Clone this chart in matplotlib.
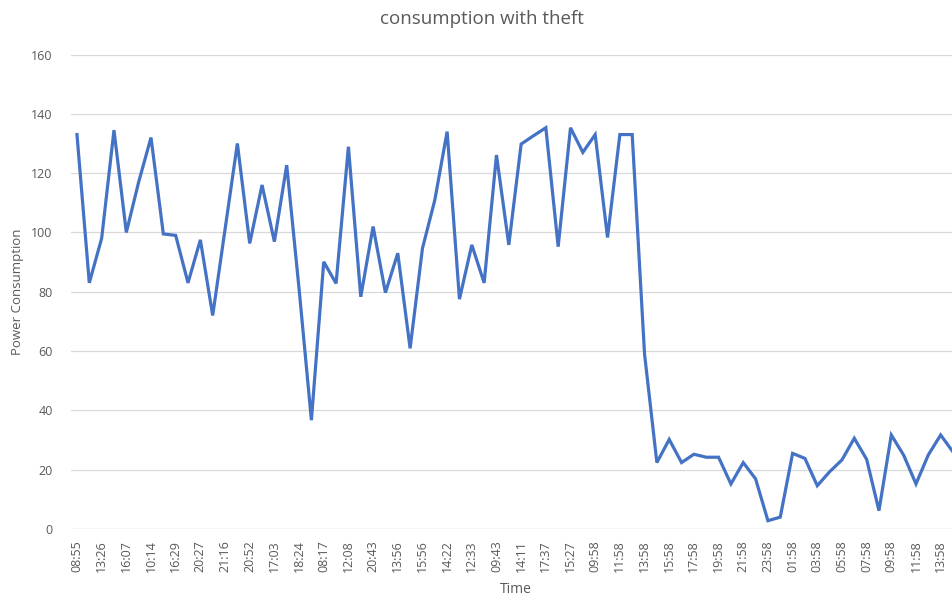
import matplotlib
matplotlib.use("Agg")
import matplotlib.pyplot as plt
import numpy as np

plt.rcParams["font.family"] = ["Open Sans", "DejaVu Sans"]

# every other reading carries a time label on the category axis
time_labels = [
    "08:55", "13:26", "16:07", "10:14", "16:29", "20:27", "21:16", "20:52",
    "17:03", "18:24", "08:17", "12:08", "20:43", "13:56", "15:56", "14:22",
    "12:33", "09:43", "14:11", "17:37", "15:27", "09:58", "11:58", "13:58",
    "15:58", "17:58", "19:58", "21:58", "23:58", "01:58", "03:58", "05:58",
    "07:58", "09:58", "11:58", "13:58",
]

consumption = [
    133, 83, 98, 134.5, 100, 117, 132, 99.5, 99, 83,
    97.5, 72, 101, 130, 96.3, 116, 96.9, 122.7, 81, 36.7,
    90.1, 82.8, 128.9, 78.3, 102, 79.7, 93, 60.9, 94.6, 110.9,
    134, 77.5, 95.8, 83, 126.1, 95.8, 129.8, 132.6, 135.3, 95.2,
    135.3, 127, 133, 98.3, 133, 133, 59, 22.4, 30.2, 22.4,
    25.2, 24.2, 24.2, 15.2, 22.4, 16.9, 2.8, 4, 25.5, 23.8,
    14.6, 19.3, 23.3, 30.6, 23.5, 6.2, 31.7, 24.9, 15.2, 25,
    31.7, 26,
]

y_ticks = [0, 20, 40, 60, 80, 100, 120, 140, 160]

text_grey = "#595959"
grid_grey = "#D9D9D9"
line_blue = "#4472C4"

fig = plt.figure(figsize=(9.53, 5.99), dpi=100)
ax = fig.add_axes([70.8 / 953, 70 / 599, 1 - 70.8 / 953, 474.5 / 599])

x = np.arange(len(consumption))
ax.plot(x, consumption, color=line_blue, lw=2.3, solid_joinstyle="miter",
        zorder=3)

ax.set_xlim(-0.5, len(consumption) - 1)
ax.set_ylim(0, 160)
ax.set_yticks(y_ticks)
ax.set_yticklabels([str(v) for v in y_ticks])
ax.set_xticks(x[::2])
ax.set_xticklabels(time_labels, rotation=90)

ax.grid(axis="y", color=grid_grey, lw=0.9, zorder=0)
for side in ("top", "right", "left", "bottom"):
    ax.spines[side].set_visible(False)
ax.axhline(0, color=grid_grey, lw=0.9, zorder=1)
ax.tick_params(axis="both", length=0, colors=text_grey, labelsize=9)
ax.tick_params(axis="y", pad=13)
ax.tick_params(axis="x", pad=8)

ax.set_xlabel("Time", color=text_grey, fontsize=10)
ax.set_ylabel("Power Consumption", color=text_grey, fontsize=9.5)
ax.xaxis.set_label_coords(0.504, -0.112)
ax.yaxis.set_label_coords(-0.053, 0.5)

fig.text(0.506, 0.968, "consumption with theft", color=text_grey,
         fontsize=13.5, ha="center", va="center")

fig.savefig("out.png", dpi=100, facecolor="white")
